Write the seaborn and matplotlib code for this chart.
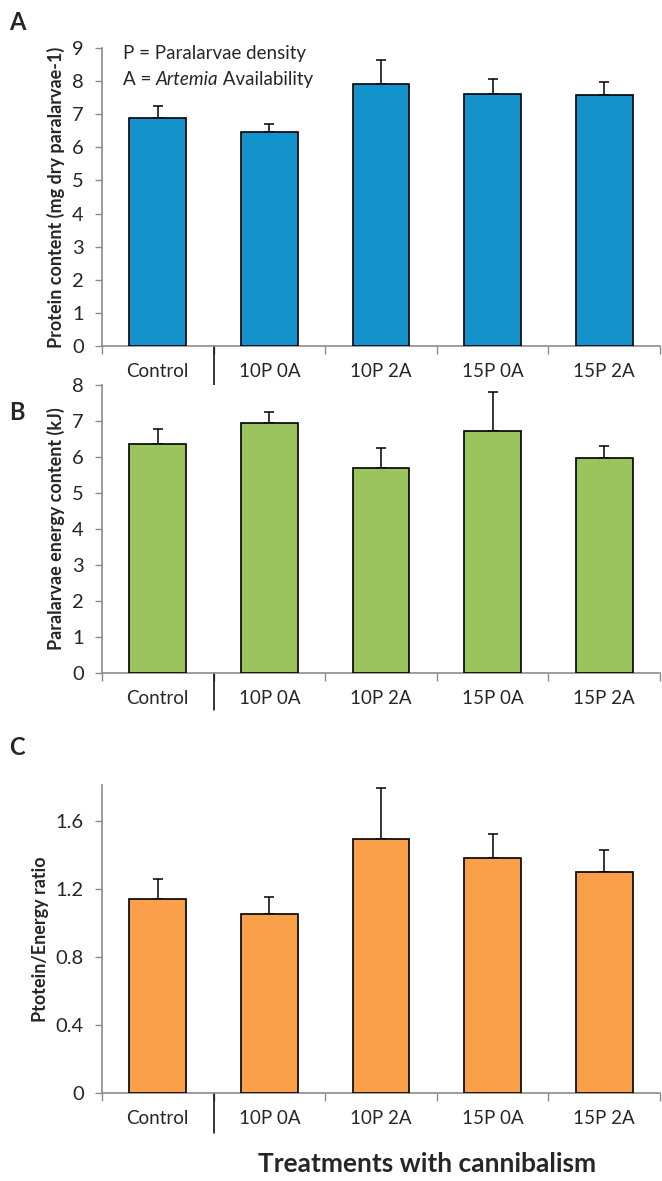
import numpy as np
import pandas as pd
import matplotlib.pyplot as plt
import seaborn as sns

treatments = ['Control', '10P 0A', '10P 2A', '15P 0A', '15P 2A']

protein = [6.90, 6.45, 7.92, 7.60, 7.57]
protein_err = [0.35, 0.25, 0.73, 0.45, 0.40]

energy = [6.37, 6.93, 5.70, 6.73, 5.97]
energy_err = [0.40, 0.32, 0.55, 1.07, 0.33]

ratio = [1.14, 1.05, 1.49, 1.38, 1.30]
ratio_err = [0.12, 0.10, 0.30, 0.14, 0.13]

sns.set_style('white')
plt.rcParams['font.family'] = ['Lato', 'DejaVu Sans']

fig = plt.figure(figsize=(6.62, 11.81), dpi=100)

panels = [
    ('A', 0.981, protein, protein_err, '#1492CC', 'Protein content (mg dry paralarvae-1)',
     [0.154, 0.7070, 0.843, 0.2524], (0, 9), np.arange(0, 10, 1), '{:.0f}'),
    ('B', 0.651, energy, energy_err, '#9BC35E', 'Paralarvae energy content (kJ)',
     [0.154, 0.4302, 0.843, 0.2439], (0, 8), np.arange(0, 9, 1), '{:.0f}'),
    ('C', 0.367, ratio, ratio_err, '#FBA04A', 'Ptotein/Energy ratio',
     [0.154, 0.0745, 0.843, 0.2608], (0, 1.81), np.arange(0, 1.7, 0.4), '{:g}'),
]

grey = '#8c8c8c'
for letter, ly, vals, errs, color, ylabel, rect, ylim, yticks, fmt in panels:
    ax = fig.add_axes(rect)
    df = pd.DataFrame({'Treatment': treatments, 'Value': vals})
    sns.barplot(data=df, x='Treatment', y='Value', color=color, width=0.51,
                edgecolor='black', linewidth=1.2, saturation=1, ax=ax, zorder=3)
    ax.errorbar(np.arange(len(vals)), vals, yerr=[np.zeros(len(vals)), errs],
                fmt='none', ecolor='black', elinewidth=1.1, capsize=3.5,
                capthick=1.1, zorder=2)
    ax.set_xlim(-0.5, 4.5)
    ax.set_ylim(*ylim)
    ax.set_yticks(yticks)
    ax.set_yticklabels([fmt.format(t) for t in yticks], fontsize=14.5)
    ax.set_xlabel('')
    ax.set_ylabel(ylabel, fontsize=13, fontweight='bold', labelpad=5)
    ax.tick_params(axis='x', which='major', length=0, labelsize=13.5, pad=12)
    ax.set_xticks(np.arange(-0.5, 5, 1), minor=True)
    ax.tick_params(axis='x', which='minor', length=6, color=grey, width=1)
    ax.tick_params(axis='y', length=5, color=grey, width=1, direction='out', pad=8)
    ax.yaxis.set_ticks_position('left')
    ax.xaxis.set_ticks_position('bottom')
    for s in ['top', 'right']:
        ax.spines[s].set_visible(False)
    for s in ['left', 'bottom']:
        ax.spines[s].set_color(grey)
        ax.spines[s].set_linewidth(1.2)
    # separator between control and treatments
    trans = ax.get_xaxis_transform()
    ax.plot([0.5, 0.5], [0, -0.13], transform=trans, color='black',
            linewidth=1.1, clip_on=False)
    fig.text(0.026, ly, letter, fontsize=17, fontweight='bold',
             ha='center', va='center')

    if letter == 'A':
        ax.text(0.037, 0.98, 'P = Paralarvae density', transform=ax.transAxes,
                fontsize=13.5, ha='left', va='center')
        t1 = ax.text(0.037, 0.893, 'A = ', transform=ax.transAxes,
                     fontsize=13.5, ha='left', va='center')
        t2 = ax.annotate('Artemia', xy=(1, 0.5), xycoords=t1, style='italic',
                         fontsize=13.5, ha='left', va='center')
        ax.annotate(' Availability', xy=(1, 0.5), xycoords=t2,
                    fontsize=13.5, ha='left', va='center')

fig.text(0.645, 0.014, 'Treatments with cannibalism', fontsize=19,
         fontweight='bold', ha='center', va='center')

fig.savefig('out.png', dpi=100)
